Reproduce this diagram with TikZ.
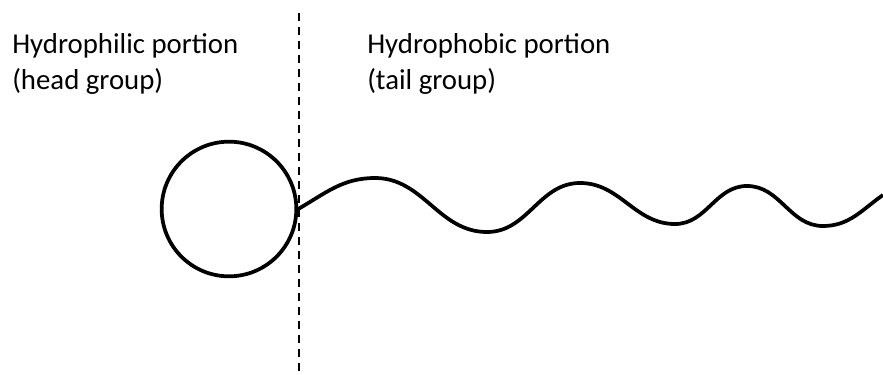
\documentclass[tikz,border=0pt]{standalone}
\usepackage{fontspec}
\setmainfont{Carlito}
\usetikzlibrary{positioning}

\begin{document}
\begin{tikzpicture}[
    x=0.75pt, y=-0.75pt,
    every node/.style={font=\fontsize{21.6}{27}\selectfont, align=left, inner sep=0pt},
    head/.style={circle, draw=black, line width=2.8pt, minimum size=101pt},
    tail/.style={line width=2.8pt, black},
    divide/.style={line width=1.6pt, dash pattern=on 6pt off 4.5pt}
]
\useasboundingbox (0,0) rectangle (883,375);

% Labels (top)
\node[anchor=base west] (philic) at (12,89) {Hydrophilic portion\\(head group)};
\node[anchor=base west] (phobic) at (367,89) {Hydrophobic portion\\(tail group)};

% Head group
\node[head] (ball) at (229,209) {};

% Dividing line
\coordinate (top) at (299,13);
\coordinate (bottom) at (299,375);
\draw[divide] (top) -- (bottom);

% Tail group
\coordinate (p1) at (375,178);
\coordinate (t1) at (487,232);
\coordinate (p2) at (580,183);
\coordinate (t2) at (675,224);
\coordinate (p3) at (747,186);
\coordinate (t3) at (823,226);
\coordinate (end) at (883,195);
\draw[tail] (ball.east) to[out=30,in=180] (p1) to[out=0,in=180] (t1)
    to[out=0,in=180] (p2) to[out=0,in=180] (t2)
    to[out=0,in=180] (p3) to[out=0,in=180] (t3)
    to[out=0,in=215] (end);
\end{tikzpicture}
\end{document}
